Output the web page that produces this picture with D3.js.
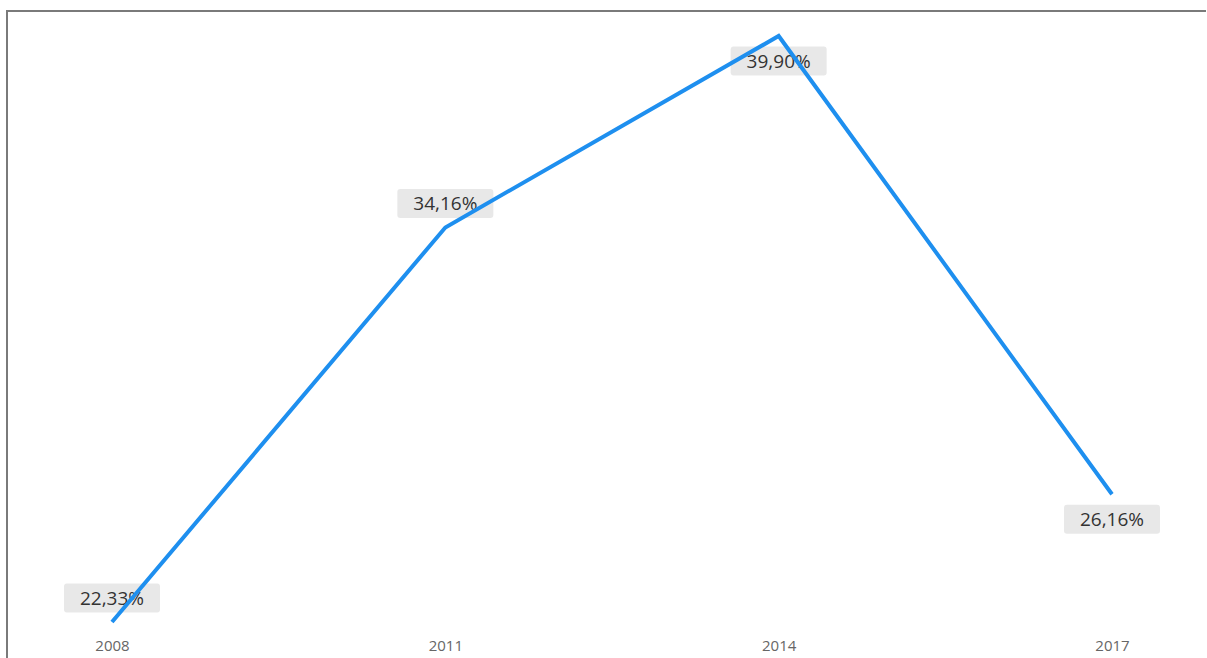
<!DOCTYPE html>
<html>
<head>
<meta charset="utf-8">
<script src="https://cdn.jsdelivr.net/npm/d3@7"></script>
<style>
html,body{margin:0;padding:0;background:#fff;overflow:hidden;}
svg{display:block;}
</style>
</head>
<body>
<svg id="chart" width="1207" height="658"></svg>
<script>
const years = ["2008", "2011", "2014", "2017"];
const values = [22.33, 34.16, 39.90, 26.16];
const labelSide = ["above", "above", "below", "below"];

const svg = d3.select("#chart");
const W = 1207, H = 658;

// frame (left + top edges visible)
svg.append("path")
  .attr("d", `M7,${H} L7,11 L${W - 1},11`)
  .attr("fill", "none")
  .attr("stroke", "#7a7a7a")
  .attr("stroke-width", 2);

const x = d3.scalePoint().domain(years).range([112, 1112]);
const y = d3.scaleLinear().domain([d3.min(values), d3.max(values)]).range([622, 36]);

const data = years.map((yr, i) => ({ yr, v: values[i], side: labelSide[i] }));

// x axis labels
const xAxis = d3.axisBottom(x).tickSize(0).tickPadding(0);
const gx = svg.append("g").attr("transform", "translate(0,640)").call(xAxis);
gx.select(".domain").remove();
gx.selectAll("text")
  .attr("font-family", "'Open Sans', 'Noto Sans', sans-serif")
  .attr("font-size", 15)
  .attr("fill", "#666")
  .attr("dy", "0.71em");

// data labels
const fmt = v => v.toFixed(2).replace(".", ",") + "%";
const lab = svg.append("g").selectAll("g").data(data).join("g")
  .attr("transform", d => `translate(${x(d.yr)},${y(d.v) + (d.side === "above" ? -24 : 25)})`);
lab.append("rect")
  .attr("x", -48).attr("y", -14.5)
  .attr("width", 96).attr("height", 29)
  .attr("rx", 3)
  .attr("fill", "#e6e6e6")
  .attr("fill-opacity", 0.9);
lab.append("text")
  .attr("text-anchor", "middle")
  .attr("dy", "0.36em")
  .attr("font-family", "'Open Sans', 'Noto Sans', sans-serif")
  .attr("font-size", 19)
  .attr("fill", "#333")
  .text(d => fmt(d.v));

// line (drawn over labels)
const line = d3.line().x(d => x(d.yr)).y(d => y(d.v));
svg.append("path")
  .datum(data)
  .attr("d", line)
  .attr("fill", "none")
  .attr("stroke", "#1e8fef")
  .attr("stroke-width", 4)
  .attr("stroke-linejoin", "miter")
  .attr("stroke-linecap", "butt");
</script>
</body>
</html>
